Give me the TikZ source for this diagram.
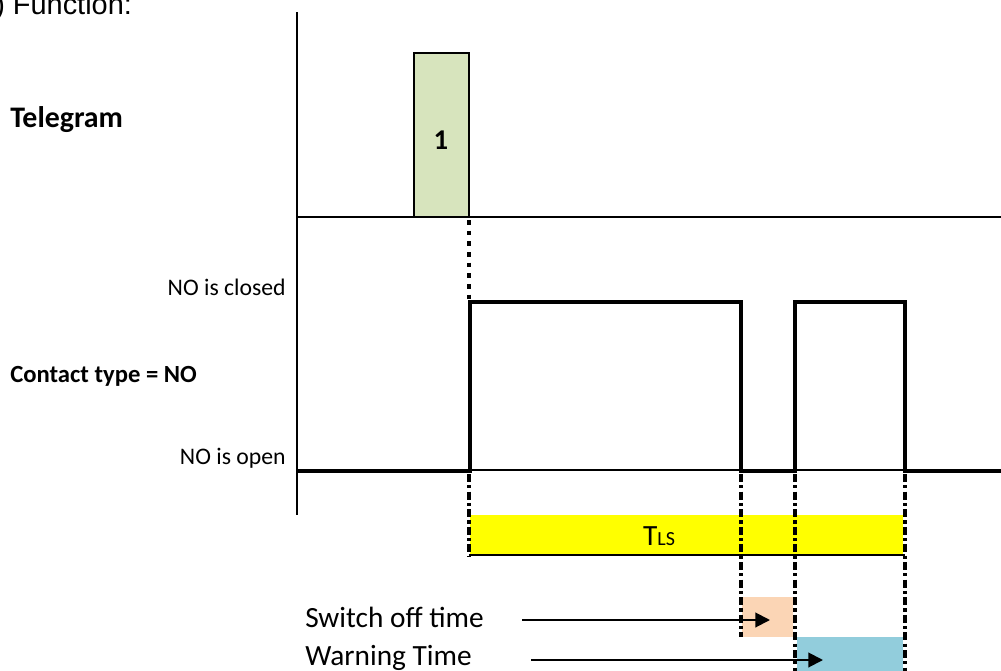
\documentclass[tikz,border=0pt]{standalone}
\usepackage{fontspec}
\setmainfont{Carlito}
\newfontfamily\headfont{Liberation Sans}
\usetikzlibrary{arrows.meta}
\definecolor{tgreen}{HTML}{D7E4BD}
\definecolor{tyellow}{HTML}{FFFF00}
\definecolor{torange}{HTML}{FBD5B5}
\definecolor{tblue}{HTML}{92CDDC}
\tikzset{
  thinline/.style={line width=1.2pt},
  signal/.style={line width=2.7pt},
  marker/.style={line width=2.4pt,dash pattern=on 6pt off 2.4pt on 2.4pt off 2.4pt},
  dotline/.style={line width=2.4pt,dash pattern=on 3.4pt off 4.6pt},
  lbl/.style={inner sep=0pt,font=\fontsize{17.8}{20}\selectfont},
  biglbl/.style={inner sep=0pt,font=\fontsize{22}{25}\selectfont},
  pointer/.style={line width=1.5pt,-{Triangle[length=11pt,width=11pt]}}
}

\begin{document}
\begin{tikzpicture}[x=0.75pt,y=-0.75pt]
\useasboundingbox (0,0) rectangle (1001,671);

% heading, cut off at the top
\node[anchor=base west,inner sep=0pt,font=\headfont\fontsize{21.7}{24}\selectfont] (head) at (-5,15) {) Function:};

% time bars
\fill[tyellow] (470,515) rectangle (903,555);
\fill[torange] (742,597) rectangle (793,637);
\fill[tblue] (797,637) rectangle (903,671);
\draw[thinline] (469,555) -- (905,555);

% axes
\draw[thinline] (297,12) -- (297,515);
\draw[thinline] (297,217) -- (1001,217);
\draw[thinline] (297,470) -- (1001,470);

% telegram
\draw[thinline,fill=tgreen] (414,53) rectangle (469,217);
\node[inner sep=0pt,font=\bfseries\fontsize{21.5}{24}\selectfont] (tel1) at (441,140) {1};
\node[anchor=base west,inner sep=0pt,font=\bfseries\fontsize{22.4}{25}\selectfont] (tgram) at (10,127) {Telegram};

% contact
\draw[signal] (297,471) -- (470,471) -- (470,302) -- (741,302) -- (741,471)
  -- (795,471) -- (795,302) -- (905,302) -- (905,471) -- (1001,471);
\draw[dotline] (469,220) -- (469,300);
\node[lbl,anchor=base east] (closed) at (286,295) {NO is closed};
\node[lbl,anchor=base east] (open) at (286,464) {NO is open};
\node[lbl,anchor=base west,font=\bfseries\fontsize{18.5}{21}\selectfont] (ctype) at (10,382) {Contact type = NO};

% markers
\draw[marker] (469,474) -- (469,556);
\draw[marker] (741,474) -- (741,637);
\draw[marker] (795,474) -- (795,671);
\draw[marker] (905,474) -- (905,671);

\node[biglbl,anchor=base] (tls) at (659,545) {T{\fontsize{15}{18}\selectfont LS}};

% time labels
\node[biglbl,anchor=base west] (swoff) at (305,627) {Switch off time};
\node[biglbl,anchor=base west] (warn) at (305,665) {Warning Time};
\coordinate (swtail) at (522,620);
\coordinate (swtip) at (770,620);
\coordinate (wntail) at (531,660);
\coordinate (wntip) at (823,660);
\draw[pointer] (swtail) -- (swtip);
\draw[pointer] (wntail) -- (wntip);
\end{tikzpicture}
\end{document}
